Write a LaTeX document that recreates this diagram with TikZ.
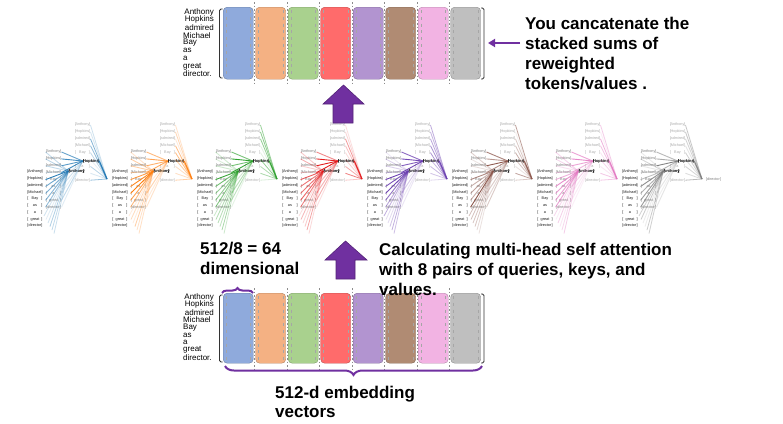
\documentclass[tikz,border=0pt]{standalone}
\usepackage{fontspec}
\setmainfont{Liberation Sans}
\usetikzlibrary{decorations.pathreplacing,arrows.meta}
\definecolor{apurple}{HTML}{7030A0}
\definecolor{b1}{HTML}{8FAADC}
\definecolor{b2}{HTML}{F4B183}
\definecolor{b3}{HTML}{A9D18E}
\definecolor{b4}{HTML}{FF6B6B}
\definecolor{b5}{HTML}{B294D0}
\definecolor{b6}{HTML}{B08B73}
\definecolor{b7}{HTML}{F2B3E3}
\definecolor{b8}{HTML}{BFBFBF}
\definecolor{l1}{HTML}{1F77B4}
\definecolor{l2}{HTML}{FF7F0E}
\definecolor{l3}{HTML}{2CA02C}
\definecolor{l4}{HTML}{E41A1C}
\definecolor{l5}{HTML}{6A3DB0}
\definecolor{l6}{HTML}{8C564B}
\definecolor{l7}{HTML}{E377C2}
\definecolor{l8}{HTML}{7F7F7F}
\newcommand\tokbox[1]{[\makebox[13pt]{#1}]}
\newcommand\topword[1]{\if-#1\phantom{\tokbox{as}}\else\tokbox{#1}\fi}
\tikzset{
  bigtxt/.style={font=\bfseries\fontsize{17}{20}\selectfont, anchor=base west, inner sep=0},
  wordtxt/.style={font=\fontsize{8}{8}\selectfont, inner sep=0},
  tinytok/.style={font=\fontsize{3.8}{4}\selectfont, inner sep=0.2pt},
  lefttok/.style={tinytok, text=black!90},
  midtok/.style={tinytok, text=black!50},
  toptok/.style={tinytok, text=black!32},
  hitok/.style={font=\bfseries\fontsize{4}{4}\selectfont, inner sep=0.2pt, text=black},
  sepline/.style={black!45, line width=0.5pt, dash pattern=on 1.5pt off 2pt},
  barbracket/.style={black!80, line width=0.8pt, rounded corners=1.5pt},
  bigarrow/.style={fill=apurple, draw=apurple!75!black, line width=0.6pt},
  purplebrace/.style={apurple, line width=2pt, decorate},
  innerdash/.style={black!35, line width=0.4pt, dash pattern=on 3pt off 3.8pt},
}
\begin{document}
\begin{tikzpicture}[x=1pt,y=-1pt]
\useasboundingbox (0,0) rectangle (783,423);
\fill[white] (0,0) rectangle (783,423);

% ---------- bar blocks ----------
\foreach \top/\h/\nm in {7/72/T, 293/70/B}{
  \foreach \k in {1,...,7}{
    \draw[sepline] ({221.75+32.5*\k},{\top-5}) -- ({221.75+32.5*\k},{\top+\h+6});
  }
  \foreach \k/\c in {0/b1,1/b2,2/b3,3/b4,4/b5,5/b6,6/b7,7/b8}{
    \node[draw=\c!75!black, fill=\c, rounded corners=4pt, minimum width=30pt,
          minimum height=\h pt, inner sep=0, anchor=north west]
          (\nm bar\k) at ({223+32.5*\k},\top) {};
    \draw[innerdash] ([xshift=3pt,yshift=-3pt]\nm bar\k.north west) -- ([xshift=3pt,yshift=3pt]\nm bar\k.south west);
    \draw[innerdash] ([xshift=-3pt,yshift=-3pt]\nm bar\k.north east) -- ([xshift=-3pt,yshift=3pt]\nm bar\k.south east);
  }
  \draw[barbracket] (222.5,{\top+2}) -- (219.5,{\top+2}) -- (219.5,{\top+\h-1}) -- (222.5,{\top+\h-1});
  \draw[barbracket] (481,{\top+1}) -- (484,{\top+1}) -- (484,{\top+\h}) -- (481,{\top+\h});
}

% word lists beside the bars
\foreach \y/\nm in {12/tw, 297/bw}{
  \pgfmathsetmacro\dy{\y==12 ? 7.75 : 7.6}
  \node[wordtxt, anchor=east] (\nm0) at (214,\y) {Anthony};
  \node[wordtxt, anchor=east] (\nm1) at (214,{\y+\dy}) {Hopkins};
  \node[wordtxt, anchor=east] (\nm2) at (214,{\y+2*\dy}) {admired};
  \node[wordtxt, anchor=west] (\nm3) at (183,{\y+3*\dy}) {Michael};
  \node[wordtxt, anchor=west] (\nm4) at (183,{\y+4*\dy}) {Bay};
  \node[wordtxt, anchor=west] (\nm5) at (183,{\y+5*\dy}) {as};
  \node[wordtxt, anchor=west] (\nm6) at (183,{\y+6*\dy}) {a};
  \node[wordtxt, anchor=west] (\nm7) at (183,{\y+7*\dy}) {great};
  \node[wordtxt, anchor=west] (\nm8) at (183,{\y+8*\dy}) {director.};
}

% ---------- attention heads ----------
\pgfmathsetseed{42}
\foreach \g/\lc in {0/l1,1/l2,2/l3,3/l4,4/l5,5/l6,6/l7,7/l8}{
  \begin{scope}[shift={({27+85*\g},0)}]
    \foreach \w [count=\i from 0] in {Anthony,Hopkins,admired,Michael,Bay,as,a,great,director}{
      \node[lefttok] (L\g-\i) at (8,{172+6.75*\i}) {\tokbox{\w}};
      \node[midtok] (M\g-\i) at (26.5,{152+6.9*\i}) {\tokbox{\w}};
    }
    \foreach \w [count=\i from 0] in {Anthony,Hopkins,admired,Michael,Bay,-,a,-,director}{
      \node[toptok] (T\g-\i) at (55.5,{125+6.9*\i}) {\topword{\w}};
    }
    \coordinate (C\g) at (80,179);
    \foreach \j in {0,...,5}{
      \coordinate (E\g-\j) at ({17+2*\j},{216+3.5*\j});
    }
    \node[hitok] (H\g) at (64,161) {\tokbox{Hopkins}};
    \node[hitok] (A\g) at (49.5,171) {\tokbox{Anthony}};
    \foreach \i in {0,...,8}{
      \pgfmathsetmacro\op{0.1+0.5*rnd}
      \draw[\lc, line width=0.8pt, opacity=\op] (T\g-\i.east) -- (C\g);
      \pgfmathsetmacro\opb{\i<4 ? 0.5+0.5*rnd : 0.1+0.25*rnd}
      \draw[\lc, line width=0.9pt, opacity=\opb] (H\g.west) -- (M\g-\i.east);
      \pgfmathsetmacro\opc{\i>3 ? 0.45+0.55*rnd : 0.12+0.25*rnd}
      \draw[\lc, line width=0.9pt, opacity=\opc] (A\g.west) -- (M\g-\i.west);
    }
    \foreach \j in {0,...,5}{
      \pgfmathsetmacro\opd{0.12+0.3*rnd}
      \draw[\lc, line width=0.8pt, opacity=\opd] (A\g.west) -- (E\g-\j);
    }
    \draw[\lc, line width=1.1pt, opacity=0.9] (H\g.east) -- (C\g);
  \end{scope}
}
\node[midtok] (dirend) at (713.5,180) {\tokbox{director}};

% ---------- purple arrows and braces ----------
\fill[bigarrow] (343.5,85) -- (364,104) -- (353,104) -- (353,123) -- (333,123) -- (333,104) -- (323,104) -- cycle;
\fill[bigarrow] (345.5,241) -- (367,260) -- (355,260) -- (355,279) -- (336,279) -- (336,260) -- (325,260) -- cycle;
\coordinate (tailA) at (520,43);
\coordinate (tipA) at (488,43);
\draw[apurple, line width=2pt, -{Triangle[length=7pt,width=8pt]}] (tailA) -- (tipA);
\draw[purplebrace, decoration={brace, amplitude=5pt}] (222,293) -- (253,293);
\draw[purplebrace, decoration={brace, amplitude=9pt, mirror}] (225,366) -- (482,366);

% ---------- labels ----------
\node[bigtxt] (r1) at (525,29) {You cancatenate the};
\node[bigtxt] (r2) at (525,49) {stacked sums of};
\node[bigtxt] (r3) at (525,69) {reweighted};
\node[bigtxt] (r4) at (525,89) {tokens/values .};
\node[bigtxt] (d1) at (200,254) {512/8 = 64};
\node[bigtxt] (d2) at (200,274) {dimensional};
\node[bigtxt] (c1) at (379,255) {Calculating multi-head self attention};
\node[bigtxt] (c2) at (379,275) {with 8 pairs of queries, keys, and};
\node[bigtxt] (c3) at (379,295) {values.};
\node[bigtxt] (e1) at (275,398) {512-d embedding};
\node[bigtxt] (e2) at (275,417) {vectors};
\end{tikzpicture}
\end{document}
